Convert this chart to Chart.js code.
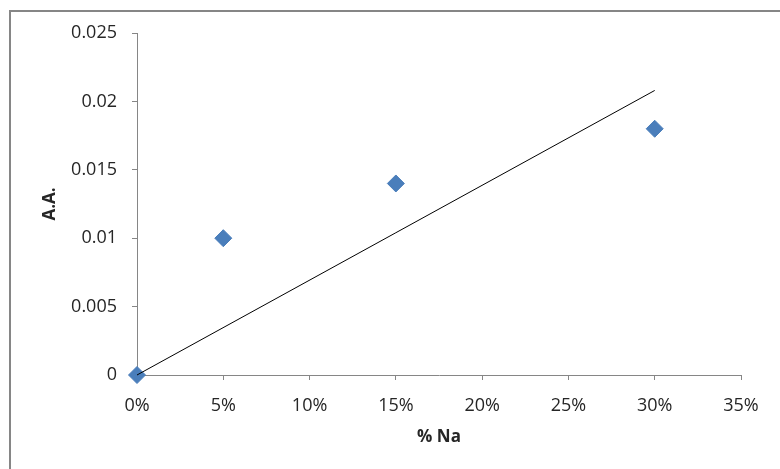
<!DOCTYPE html>
<html>
<head>
<meta charset="utf-8">
<script src="https://cdn.jsdelivr.net/npm/chart.js@4"></script>
<style>
  html, body { margin: 0; padding: 0; background: #fff; }
  canvas { display: block; }
</style>
</head>
<body>
<canvas id="naChart" width="780" height="469"></canvas>
<script>
// ------------------------
// DATA
// ------------------------
const naFraction = [0, 0.05, 0.15, 0.30];
const absorbance = [0, 0.010, 0.014, 0.018];

// linear trend line ends
const trendX = [0, 0.30];
const trendY = [0, 0.0208];

const xTicks = [0, 0.05, 0.10, 0.15, 0.20, 0.25, 0.30, 0.35];
const yTicks = [0, 0.005, 0.01, 0.015, 0.02, 0.025];

const axisGrey = "#868686";
const textColor = "#262626";
const markerBlue = "#4a7ebb";

// ------------------------
// OUTER FRAME
// ------------------------
const framePlugin = {
  id: "frame",
  beforeDraw(chart) {
    const ctx = chart.ctx;
    ctx.save();
    ctx.fillStyle = "#fff";
    ctx.fillRect(0, 0, chart.width, chart.height);
    ctx.strokeStyle = axisGrey;
    ctx.lineWidth = 2;
    ctx.strokeRect(10, 11, 1000, 1000);
    ctx.restore();
  }
};

// ------------------------
// CHART
// ------------------------
const points = naFraction.map((x, i) => ({ x, y: absorbance[i] }));
const trend = trendX.map((x, i) => ({ x, y: trendY[i] }));

new Chart(document.getElementById("naChart"), {
  type: "scatter",
  data: {
    datasets: [
      {
        label: "Trend",
        type: "line",
        data: trend,
        borderColor: "#000",
        borderWidth: 1,
        pointRadius: 0,
        fill: false,
        order: 0,
        clip: false
      },
      {
        label: "A.A.",
        data: points,
        pointStyle: "rectRot",
        pointRadius: 8.5,
        pointHoverRadius: 8.5,
        backgroundColor: markerBlue,
        borderColor: markerBlue,
        borderWidth: 1,
        order: 1,
        clip: false
      }
    ]
  },
  options: {
    responsive: false,
    animation: false,
    layout: {
      padding: { left: 0, right: 39, top: 33, bottom: 0 }
    },
    plugins: {
      legend: { display: false },
      tooltip: { enabled: false }
    },
    scales: {
      x: {
        type: "linear",
        min: 0,
        max: 0.35,
        afterFit: scale => { scale.height = 94; },
        afterBuildTicks: scale => {
          scale.ticks = xTicks.map(v => ({ value: v }));
        },
        border: { color: axisGrey, width: 1 },
        grid: {
          drawOnChartArea: false,
          color: axisGrey,
          tickLength: 5
        },
        ticks: {
          padding: 15,
          color: textColor,
          font: { family: "Open Sans", size: 18 },
          callback: v => Math.round(v * 100) + "%"
        },
        title: {
          display: true,
          text: "% Na",
          color: textColor,
          font: { family: "Open Sans", size: 17, weight: "bold" },
          padding: { top: 0, bottom: 22 }
        }
      },
      y: {
        type: "linear",
        min: 0,
        max: 0.025,
        afterFit: scale => { scale.width = 137; },
        afterBuildTicks: scale => {
          scale.ticks = yTicks.map(v => ({ value: v }));
        },
        border: { color: axisGrey, width: 1 },
        grid: {
          drawOnChartArea: false,
          color: axisGrey,
          tickLength: 5
        },
        ticks: {
          padding: 15,
          color: textColor,
          font: { family: "Open Sans", size: 18 },
          callback: v => String(+v.toFixed(3))
        },
        title: {
          display: true,
          text: "A.A.",
          color: textColor,
          font: { family: "Open Sans", size: 17, weight: "bold" },
          padding: { top: 40, bottom: 0 }
        }
      }
    }
  },
  plugins: [framePlugin]
});
</script>
</body>
</html>
